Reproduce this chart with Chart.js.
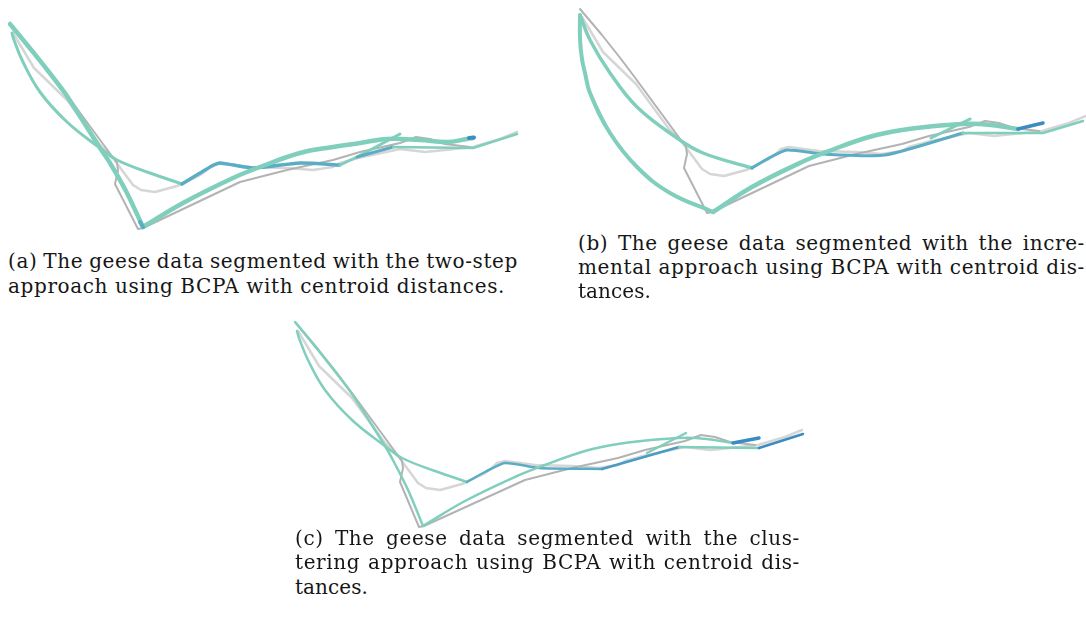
<!DOCTYPE html>
<html>
<head>
<meta charset="utf-8">
<script src="https://cdn.jsdelivr.net/npm/chart.js@4"></script>
<style>
  html, body { margin: 0; padding: 0; background: #fff; }
  body { width: 1086px; height: 632px; overflow: hidden; position: relative; }
  canvas { position: absolute; }
  .cap { position: absolute; font-family: "DejaVu Serif", "Liberation Serif", serif; font-size: 20px; line-height: 24px;
         white-space: nowrap; color: #161616; }
</style>
</head>
<body>
<canvas id="plotA" width="530" height="240" style="left:0px; top:0px;"></canvas>
<canvas id="plotB" width="517" height="240" style="left:569px; top:-16px;"></canvas>
<canvas id="plotC" width="530" height="240" style="left:285px; top:298px;"></canvas>
<script>
// raw geese tracks (plot pixel units, y downwards)
const rawDark = [[11,25],[33,51],[52,75],[67,95],[117,163],[118,170],[115,184],[138,229],[143,228],[240,182],[287,170],
  [333,160],[360,152],[400,143],[416,137],[430,139],[445,144],[470,147]];
const rawLight = [[13,33],[34,68],[67,100],[100,145],[113,158],[133,185],[141,190],[148,191],[155,192],
  [177,186],[200,175],[207,170],[212,165],[220,163],[250,167],[287,168],[313,170],[333,167],[340,163],
  [358,158],[400,149],[425,152],[445,150],[473,147],[500,139],[517,132]];
const rawDarkC = [[11,25],[33,51],[52,75],[67,95],[117,163],[118,170],[115,184],[134,229],[139,228],[240,182],[287,170],
  [333,160],[360,152],[400,143],[416,137],[430,139],[445,144],[470,147]];

// (a) two-step segmentation
const aStraight = [[10,24],[33,52],[52,76],[67,96],[100,148],[110,163],[127,193],[143,227]];
const aUpperArc = [[12,33],[14,40],[23,62],[40,92],[67,122],[100,148],[117,160],[150,173],[182,184]];
const aBlueMid = [[182,184],[200,173],[212,166],[220,163],[253,168],[300,163],[340,165]];
const aRise = [[340,165],[357,157],[400,134]];
const aBlueShort = [[357,157],[393,147]];
const aTail = [[393,147],[473,148],[517,134]];
const aLowerArc = [[143,227],[183,203],[233,178],[260,167],[300,153],[333,147],[360,143],[387,139],
  [420,140],[447,142],[467,139],[473,138]];
const aTipBottom = [[140,222],[143,227]];
const aTipEnd = [[469,138],[474,137.5]];

// (b) incremental segmentation
const bBigArc = [[11,31],[11,55],[13,75],[16,89],[21,109],[41,149],[68,183],[101,209],[144,228]];
const bUpperArc = [[11,31],[21,56],[41,89],[68,123],[108,154],[134,169],[183,184]];
const bBlue = [[183,184],[200,174],[218,166],[254,170],[316,171],[394,149]];
const bRise = [[362,154],[401,135]];
const bTail = [[393,149],[474,149],[514,137]];
const bLowerArc = [[144,228],[183,203],[233,178],[260,167],[300,153],[333,146],[378,141],[411,140],[449,145]];
const bTipEnd = [[449,145],[474,139]];

// (c) clustering segmentation
const cStraight = [[10,24],[33,52],[52,76],[67,96],[100,148],[109,164],[124,194],[138,228]];
const cBlue1 = [[182,184],[200,174],[220,165],[254,170],[317,171]];
const cBlue2 = [[317,171],[394,149]];
const cRise = [[362,155],[401,135]];
const cTail = [[394,149],[474,150]];
const cBlueEnd = [[474,150],[518,136]];
const cLowerArc = [[138,228],[180,203],[232,178],[260,167],[300,153],[333,146],[378,141],[411,140],[448,145]];
const cTipEnd = [[448,145],[474,140]];

const TEAL = '#80cebc', BLUE = '#5aadc4', MID = '#4a9cc4', DARK = '#3a8cc3';
const GRAY_D = '#b3b3b3', GRAY_L = '#d6d6d6';

function line(pts, color, width, tension) {
  return {
    data: pts.map(p => ({x: p[0], y: p[1]})),
    showLine: true, borderColor: color, borderWidth: width,
    pointRadius: 0, tension: tension || 0, fill: false,
    borderCapStyle: 'round', borderJoinStyle: 'round'
  };
}

// datasets listed bottom -> top; Chart.js paints the first dataset last
function makeChart(id, w, h, datasets) {
  new Chart(document.getElementById(id), {
    type: 'scatter',
    data: { datasets: datasets.slice().reverse() },
    options: {
      responsive: false, animation: false, devicePixelRatio: 1,
      layout: { padding: 0 },
      plugins: { legend: { display: false }, tooltip: { enabled: false } },
      scales: {
        x: { type: 'linear', min: 0, max: w, display: false },
        y: { type: 'linear', min: 0, max: h, reverse: true, display: false }
      }
    }
  });
}

makeChart('plotA', 530, 240, [
  line(rawLight, GRAY_L, 2.5), line(rawDark, GRAY_D, 2),
  line(aUpperArc, TEAL, 3, 0.4),
  line(aBlueMid, BLUE, 3.5, 0.2),
  line(aRise, TEAL, 3),
  line(aBlueShort, BLUE, 3),
  line(aTail, TEAL, 2.5),
  line(aStraight, TEAL, 4.5, 0.2),
  line(aLowerArc, TEAL, 4.5, 0.4),
  line(aTipBottom, BLUE, 4),
  line(aTipEnd, DARK, 4)
]);

makeChart('plotB', 517, 240, [
  line(rawLight, GRAY_L, 2.5), line(rawDark, GRAY_D, 2),
  line(bUpperArc, TEAL, 3.5, 0.4),
  line(bBigArc, TEAL, 4, 0.4),
  line(bBlue, BLUE, 3, 0.2),
  line(bRise, TEAL, 3),
  line(bTail, TEAL, 2.5),
  line(bLowerArc, TEAL, 4.5, 0.4),
  line(bTipEnd, DARK, 3.5)
]);

makeChart('plotC', 530, 240, [
  line(rawLight, GRAY_L, 2.5), line(rawDarkC, GRAY_D, 2),
  line(aUpperArc, TEAL, 2.5, 0.4),
  line(cStraight, TEAL, 2.5, 0.2),
  line(cBlue1, BLUE, 2.5, 0.2),
  line(cBlue2, MID, 2.5),
  line(cRise, TEAL, 2.5),
  line(cTail, TEAL, 2.5),
  line(cBlueEnd, DARK, 2.5),
  line(cLowerArc, TEAL, 2.5, 0.4),
  line(cTipEnd, DARK, 3.5)
]);

// captions: text, left, baseline, target width, justified
const captions = [
  ['(a) The geese data segmented with the two-step', 8, 268, 510, true],
  ['approach using BCPA with centroid distances.', 8, 293, 497, false],
  ['(b) The geese data segmented with the incre-', 578, 250, 507, true],
  ['mental approach using BCPA with centroid dis-', 578, 274, 507, true],
  ['tances.', 578, 298, 73, false],
  ['(c) The geese data segmented with the clus-', 295, 545, 505, true],
  ['tering approach using BCPA with centroid dis-', 295, 569, 505, true],
  ['tances.', 295, 594, 73, false]
];

const els = captions.map(c => {
  const d = document.createElement('div');
  d.className = 'cap';
  d.textContent = c[0];
  const mark = document.createElement('span');
  mark.style.display = 'inline-block';
  mark.style.width = '0px';
  mark.style.height = '0px';
  mark.style.verticalAlign = 'baseline';
  d.appendChild(mark);
  d.style.left = c[1] + 'px';
  d.style.top = '0px';
  document.body.appendChild(d);
  const base = mark.offsetTop;
  d.style.top = (c[2] - base) + 'px';
  return d;
});
// base letter spacing from the plain last line of (a)
const ref = els[1];
const ls0 = (captions[1][3] - ref.getBoundingClientRect().width) / captions[1][0].length;
els.forEach((d, i) => {
  const c = captions[i];
  d.style.letterSpacing = ls0 + 'px';
  const w1 = d.getBoundingClientRect().width;
  if (c[4]) {
    const gaps = c[0].split(' ').length - 1;
    d.style.wordSpacing = ((c[3] - w1) / gaps) + 'px';
  } else {
    d.style.letterSpacing = (ls0 + (c[3] - w1) / c[0].length) + 'px';
  }
});
</script>
</body>
</html>
